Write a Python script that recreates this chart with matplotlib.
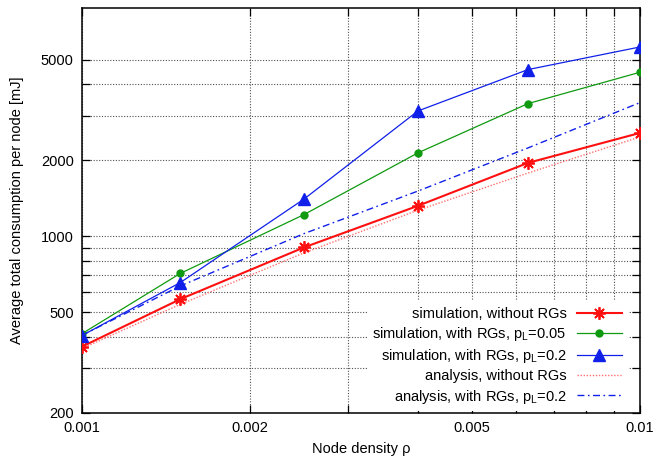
import matplotlib
matplotlib.use("Agg")
import matplotlib.pyplot as plt
from matplotlib.ticker import FixedLocator, FixedFormatter, NullFormatter

plt.rcParams['font.family'] = ['Liberation Sans', 'DejaVu Sans']
plt.rcParams['mathtext.default'] = 'regular'

# Node densities
density = [0.001, 0.0015, 0.0025, 0.004, 0.0063, 0.01]

# Average total consumption per node [mJ]
sim_no_rg = [366, 564, 904, 1320, 1952, 2564]
sim_rg_005 = [412, 713, 1219, 2138, 3350, 4456]
sim_rg_02 = [405, 656, 1404, 3132, 4566, 5610]
ana_no_rg = [360, 538, 860, 1268, 1780, 2472]
ana_rg_02 = [406, 636, 1025, 1510, 2237, 3380]

labels = [
    "simulation, without RGs",
    "simulation, with RGs, p$_L$=0.05",
    "simulation, with RGs, p$_L$=0.2",
    "analysis, without RGs",
    "analysis, with RGs, p$_L$=0.2",
]

x_major = [0.001, 0.002, 0.005, 0.01]
x_major_labels = ["0.001", "0.002", "0.005", "0.01"]
x_minor = [0.003, 0.004, 0.006, 0.007, 0.008, 0.009]
y_major = [200, 500, 1000, 2000, 5000]
y_major_labels = ["200", "500", "1000", "2000", "5000"]
y_minor = [300, 400, 600, 700, 800, 900, 3000, 4000]

fig = plt.figure(figsize=(6.54, 4.62), dpi=100)
ax = fig.add_axes([82 / 654, 1 - 413 / 462, 558 / 654, 405 / 462])
ax.set_xscale("log")
ax.set_yscale("log")

ax.plot(density, sim_no_rg, color="#ff1010", lw=1.5, marker=(8, 2, 0),
        ms=9, mew=1.3, label=labels[0], zorder=5)
ax.plot(density, sim_rg_005, color="#109a10", lw=0.9, marker="o",
        ms=5, label=labels[1], zorder=5)
ax.plot(density, sim_rg_02, color="#1020e8", lw=0.9, marker="^",
        ms=8.5, label=labels[2], zorder=5)
ax.plot(density, ana_no_rg, color="#ff7070", lw=1.0, ls=(0, (1, 1.2)),
        label=labels[3], zorder=4)
ax.plot(density, ana_rg_02, color="#1020e8", lw=1.0,
        ls=(0, (5, 2.5, 1.2, 2.5)), label=labels[4], zorder=4)

ax.set_xlim(0.001, 0.01)
ax.set_ylim(200, 8000)

ax.xaxis.set_major_locator(FixedLocator(x_major))
ax.xaxis.set_major_formatter(FixedFormatter(x_major_labels))
ax.xaxis.set_minor_locator(FixedLocator(x_minor))
ax.xaxis.set_minor_formatter(NullFormatter())
ax.yaxis.set_major_locator(FixedLocator(y_major))
ax.yaxis.set_major_formatter(FixedFormatter(y_major_labels))
ax.yaxis.set_minor_locator(FixedLocator(y_minor))
ax.yaxis.set_minor_formatter(NullFormatter())

ax.tick_params(which="both", direction="in", top=True, right=True,
               labelsize=10.5, color="black")
ax.tick_params(which="major", length=5.5, width=0.9, pad=6)
ax.tick_params(which="minor", length=5.5, width=0.9)

ax.grid(True, which="both", color="#505050", ls=(0, (1, 1.5)), lw=0.8,
        zorder=0)
ax.set_axisbelow(True)
for s in ax.spines.values():
    s.set_linewidth(1.1)

ax.set_xlabel("Node density ρ", fontsize=10.5, labelpad=5)
ax.set_ylabel("Average total consumption per node [mJ]", fontsize=10.5,
              labelpad=12)

leg = ax.legend(loc="lower right", bbox_to_anchor=(0.978, 0.004),
                markerfirst=False, fontsize=10.5, frameon=True,
                fancybox=False, edgecolor="none", facecolor="white",
                framealpha=1.0, handlelength=3.1, handletextpad=0.7,
                labelspacing=0.28, borderpad=0.4, borderaxespad=0.0)
leg._legend_handle_box.get_children()[0].align = "right"
leg.set_zorder(10)

fig.savefig("out.png", dpi=100)
